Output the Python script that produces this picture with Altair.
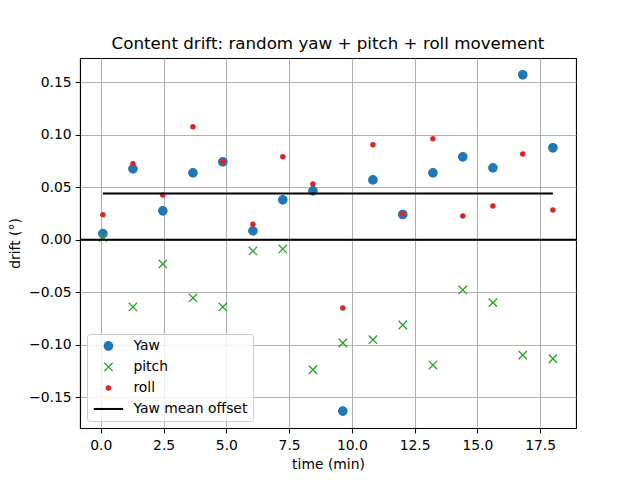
import altair as alt
import pandas as pd
import numpy as np

# ---- data ----
time_min = [0.08, 1.28, 2.47, 3.67, 4.86, 6.06, 7.25, 8.45, 9.64, 10.84,
            12.03, 13.23, 14.42, 15.62, 16.81, 18.01]
yaw = [0.0058, 0.0675, 0.0275, 0.0637, 0.0742, 0.0084, 0.038, 0.0465,
       -0.1634, 0.057, 0.024, 0.0637, 0.079, 0.0685, 0.1572, 0.0876]
pitch = [0.0023, -0.0641, -0.0231, -0.0555, -0.0641, -0.0107, -0.0088, -0.124,
         -0.0985, -0.0953, -0.0813, -0.1195, -0.0479, -0.060, -0.110, -0.1135]
roll = [0.0237, 0.0723, 0.0427, 0.1076, 0.0742, 0.0147, 0.079, 0.0532,
        -0.0651, 0.0904, 0.0246, 0.0962, 0.0227, 0.0322, 0.0818, 0.0284]

series_names = ["Yaw", "pitch", "roll", "Yaw mean offset"]
series_colors = ["#1f77b4", "#2ca02c", "#d62728", "#000000"]
# marker glyphs (custom paths are in units where [-1, 1] spans the marker size)
series_shapes = [
    "circle",
    "M-1,-1L1,1M-1,1L1,-1",
    "M-0.5,0A0.5,0.5,0,1,0,0.5,0A0.5,0.5,0,1,0,-0.5,0Z",
    "M-3.35,-0.08L3.35,-0.08L3.35,0.08L-3.35,0.08Z",
]

x_ticks = [0.0, 2.5, 5.0, 7.5, 10.0, 12.5, 15.0, 17.5]
y_ticks = [-0.15, -0.10, -0.05, 0.00, 0.05, 0.10, 0.15]

rows = []
for k, (name, vals) in enumerate((("Yaw", yaw), ("pitch", pitch), ("roll", roll))):
    for t, v in zip(time_min, vals):
        rows.append({"time": t, "drift": v, "series": name, "ord": k})
points_df = pd.DataFrame(rows)

mean_df = pd.DataFrame({"t0": [min(time_min)], "t1": [max(time_min)],
                        "mean": [float(np.mean(yaw))]})
zero_df = pd.DataFrame({"y": [0.0]})

FONT = "DejaVu Sans"
MARKER = 70

xscale = alt.Scale(domain=[-0.83, 18.93], nice=False, zero=False)
yscale = alt.Scale(domain=[-0.1795, 0.1732], nice=False, zero=False)

xaxis = alt.Axis(values=x_ticks, format=".1f", title="time (min)")
yaxis = alt.Axis(values=y_ticks, format=".2f", title="drift (°)")

color_scale = alt.Scale(domain=series_names, range=series_colors)
legend = alt.Legend(title=None)

points = alt.Chart(points_df).mark_point(
    filled=True, opacity=1, strokeWidth=1.33, size=MARKER
).encode(
    x=alt.X("time:Q", scale=xscale, axis=xaxis),
    y=alt.Y("drift:Q", scale=yscale, axis=yaxis),
    fill=alt.Fill("series:N", scale=color_scale, legend=legend),
    stroke=alt.Stroke("series:N", scale=color_scale, legend=legend),
    shape=alt.Shape("series:N",
                    scale=alt.Scale(domain=series_names, range=series_shapes),
                    legend=legend),
    order=alt.Order("ord:Q"),
)

zero_line = alt.Chart(zero_df).mark_rule(color="black", strokeWidth=2).encode(
    y=alt.Y("y:Q", scale=yscale)
)

mean_line = alt.Chart(mean_df).mark_rule(color="black", strokeWidth=2).encode(
    x=alt.X("t0:Q", scale=xscale),
    x2="t1:Q",
    y=alt.Y("mean:Q", scale=yscale),
)

chart = alt.layer(points, mean_line, zero_line).properties(
    width=496,
    height=370,
    title=alt.TitleParams(
        "Content drift: random yaw + pitch + roll movement",
        font=FONT, fontSize=16.7, fontWeight="normal", color="black",
        anchor="middle", baseline="alphabetic", offset=8, dy=16,
    ),
    padding={"left": 80, "top": 58, "right": 64, "bottom": 52},
    autosize=alt.AutoSizeParams(type="none"),
    background="white",
).configure_view(
    stroke="black", strokeWidth=1.07
).configure_axis(
    labelFont=FONT, labelFontSize=13.9, labelColor="black",
    titleFont=FONT, titleFontSize=13.9, titleFontWeight="normal", titleColor="black",
    domainColor="black", domainWidth=1.07,
    tickColor="black", tickWidth=1.07, tickSize=4.86,
    gridColor="#b0b0b0", gridWidth=1.07,
    labelPadding=4,
).configure_axisX(
    labelPadding=6,
    titlePadding=5,
).configure_axisY(
    titlePadding=6,
).configure_legend(
    orient="bottom-left", offset=7,
    labelFont=FONT, labelFontSize=13.9, labelColor="black",
    fillColor="rgba(255,255,255,0.8)", strokeColor="#cccccc",
    cornerRadius=3, padding=5, symbolStrokeWidth=1.33,
    symbolSize=MARKER, symbolOffset=9.5,
    labelOffset=18, rowPadding=6,
)

chart.save("out.html", embed_options={"renderer": "svg", "actions": False})
